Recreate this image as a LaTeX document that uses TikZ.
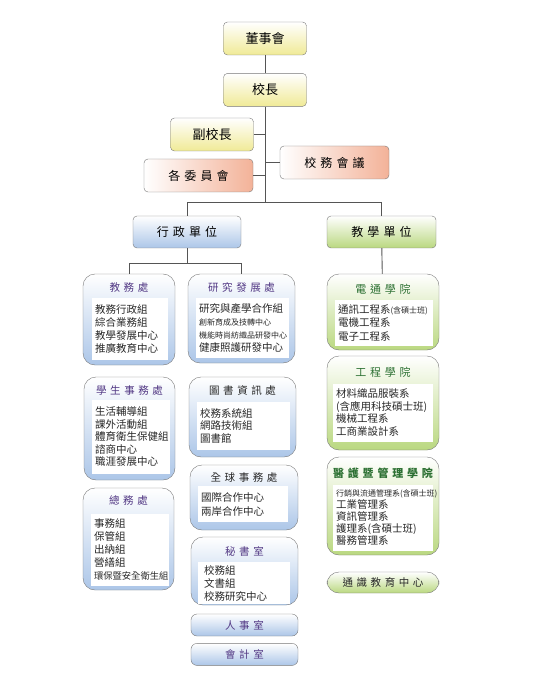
\documentclass[tikz,border=0pt]{standalone}
\usepackage{fontspec}
\setmainfont{Noto Sans CJK TC}[WordSpace=1.5]
\usetikzlibrary{positioning}

\definecolor{yelbot}{RGB}{240,234,150}
\definecolor{salmonr}{RGB}{243,178,152}
\definecolor{admblue}{RGB}{172,198,232}
\definecolor{tchgreen}{RGB}{186,216,128}
\definecolor{edgegray}{RGB}{120,120,120}
\definecolor{linegray}{RGB}{85,85,85}
\definecolor{titlepurple}{RGB}{82,56,132}
\definecolor{titlegreen}{RGB}{44,112,50}
\definecolor{textdark}{RGB}{40,40,40}

\newcommand{\smalltxt}[1]{{\fontsize{8}{12}\selectfont #1}}

\tikzset{
  topbox/.style={draw=edgegray, rounded corners=4pt, top color=white,
    bottom color=yelbot, minimum width=83, minimum height=33,
    font=\fontsize{13}{15}\selectfont},
  pinkbox/.style={topbox, left color=white, right color=salmonr,
    minimum width=109, font=\fontsize{12}{15}\selectfont},
  xzbox/.style={topbox, top color=white, bottom color=admblue,
    minimum width=108, minimum height=32, font=\fontsize{12}{15}\selectfont},
  jxbox/.style={xzbox, bottom color=tchgreen, minimum width=109},
  admbox/.style={draw=edgegray, rounded corners=12pt, top color=white,
    bottom color=admblue},
  colbox/.style={admbox, bottom color=tchgreen},
  admtitle/.style={text=titlepurple, font=\fontsize{10.5}{12}\selectfont},
  coltitle/.style={admtitle, text=titlegreen, font=\fontsize{11}{12}\selectfont},
  unitlist/.style={fill=white, align=left, inner xsep=3pt, inner ysep=0pt,
    text=textdark, font=\fontsize{10.5}{13}\selectfont},
  flatbox/.style={admbox, rounded corners=6pt, minimum width=107,
    minimum height=22, text=titlepurple, font=\fontsize{10.5}{12}\selectfont},
  link/.style={draw=linegray, line width=0.9pt},
}

\begin{document}
\begin{tikzpicture}[
    x=1pt, y=-1pt,
    node distance=18pt
  ]
  \useasboundingbox (0,0) rectangle (545,700);

  % top of the chart
  \node[topbox] (dsh) at (265,38.5) {董事會};
  \node[topbox, below=of dsh] (xz) {校長};
  \node[topbox] (fxz) at (212,134.5) {副校長};
  \node[pinkbox] (xwhy) at (334.5,162.5) {校 務 會 議};
  \node[pinkbox] (wyh) at (198.5,175.5) {各 委 員 會};
  \node[xzbox] (xzdw) at (187,232) {行 政 單 位};
  \node[jxbox] (jxdw) at (381.5,232) {教 學 單 位};

  % administration
  \node[admbox, minimum width=92, minimum height=91] (jwc) at (129,319.5) {};
  \node[unitlist, text width=70, minimum height=62] (jwc-l) at (130,329)
    {教務行政組\\綜合業務組\\教學發展中心\\推廣教育中心};
  \node[admtitle] (jwc-t) at ([yshift=-14]jwc.north) {教 務 處};

  \node[admbox, minimum width=107, minimum height=89] (yfc) at (241.5,318.5) {};
  \node[unitlist, text width=87, minimum height=60] (yfc-l) at (242.5,328)
    {研究與產學合作組\\\smalltxt{創新育成及技轉中心}\\\smalltxt{機能時尚紡織品研發中心}\\健康照護研發中心};
  \node[admtitle] (yfc-t) at ([yshift=-14]yfc.north) {研 究 發 展 處};

  \node[admbox, minimum width=91, minimum height=103] (xsc) at (129.5,428.5) {};
  \node[unitlist, text width=72, minimum height=74,
    font=\fontsize{10.5}{12.5}\selectfont] (xsc-l) at (131,437)
    {生活輔導組\\課外活動組\\體育衛生保健組\\諮商中心\\職涯發展中心};
  \node[admtitle] (xsc-t) at ([yshift=-14]xsc.north) {學 生 事 務 處};

  \node[admbox, minimum width=107, minimum height=80] (tsc) at (242.5,417) {};
  \node[unitlist, text width=87, minimum height=48,
    font=\fontsize{10.5}{12.5}\selectfont] (tsc-l) at (243.5,425.5)
    {校務系統組\\網路技術組\\圖書館};
  \node[admtitle, text=textdark] (tsc-t) at ([yshift=-14]tsc.north) {圖 書 資 訊 處};

  \node[admbox, minimum width=108, minimum height=65] (qqc) at (244,497.5) {};
  \node[unitlist, text width=84, minimum height=36,
    font=\fontsize{10.5}{14}\selectfont] (qqc-l) at (243,504)
    {國際合作中心\\兩岸合作中心};
  \node[admtitle, text=textdark] (qqc-t) at ([yshift=-13]qqc.north) {全 球 事 務 處};

  \node[admbox, minimum width=91, minimum height=102] (zwc) at (128.5,539) {};
  \node[unitlist, text width=72, minimum height=72,
    font=\fontsize{10.5}{13.2}\selectfont] (zwc-l) at (130,549.5)
    {事務組\\保管組\\出納組\\營繕組\\{\fontsize{9.3}{12}\selectfont 環保暨安全衛生組}};
  \node[admtitle] (zwc-t) at ([yshift=-13]zwc.north) {總 務 處};

  \node[admbox, minimum width=107, minimum height=68] (msc) at (244.5,571) {};
  \node[unitlist, text width=80, minimum height=42, inner xsep=6pt] (msc-l) at (244,583)
    {校務組\\文書組\\校務研究中心};
  \node[admtitle] (msc-t) at ([yshift=-15]msc.north) {秘 書 室};

  \node[flatbox] (rsc) at (244.5,625) {人 事 室};
  \node[flatbox, below=7pt of rsc] (kjs) {會 計 室};

  % colleges
  \node[colbox, minimum width=112, minimum height=76] (dtxy) at (383,312) {};
  \node[unitlist, text width=92, minimum height=46,
    font=\fontsize{10.5}{13.5}\selectfont] (dtxy-l) at (384,322.5)
    {通訊工程系\smalltxt{(含碩士班)}\\電機工程系\\電子工程系};
  \node[coltitle] (dtxy-t) at ([yshift=-15]dtxy.north) {電 通 學 院};

  \node[colbox, minimum width=112, minimum height=94] (gcxy) at (383,403) {};
  \node[unitlist, text width=94, minimum height=58,
    font=\fontsize{10.5}{12.4}\selectfont] (gcxy-l) at (383,412.5)
    {材料織品服裝系\\(含應用科技碩士班)\\機械工程系\\工商業設計系};
  \node[coltitle] (gcxy-t) at ([yshift=-16]gcxy.north) {工 程 學 院};

  \node[colbox, minimum width=112, minimum height=98] (yhxy) at (383,506) {};
  \node[unitlist, text width=94, minimum height=66,
    font=\fontsize{10.5}{11.8}\selectfont] (yhxy-l) at (383,517.5)
    {\smalltxt{行銷與流通管理系(含碩士班)}\\工業管理系\\資訊管理系\\護理系(含碩士班)\\醫務管理系};
  \node[coltitle, font=\fontsize{11}{12}\bfseries] (yhxy-t) at ([yshift=-16]yhxy.north) {醫 護 暨 管 理 學 院};

  \node[flatbox, colbox, minimum width=112, minimum height=21, text=textdark]
    (tsjy) at (383,582.5) {通 識 教 育 中 心};

  % lines
  \coordinate (hub) at (265,202);
  \coordinate (xzhub) at (187,263);
  \draw[link] (dsh) -- (xz);
  \draw[link] (xz) -- (hub);
  \draw[link] (fxz.east) -- (fxz.east -| hub);
  \draw[link] (xwhy.west) -- (xwhy.west -| hub);
  \draw[link] (wyh.east) -- (wyh.east -| hub);
  \draw[link] (hub) -| (xzdw.north);
  \draw[link] (hub) -| (jxdw.north);
  \draw[link] (xzdw) -- (xzhub);
  \draw[link] (xzhub) -| (jwc.north);
  \draw[link] (xzhub) -| (yfc.north);
  \draw[link] (jxdw) -- (dtxy);
\end{tikzpicture}
\end{document}
